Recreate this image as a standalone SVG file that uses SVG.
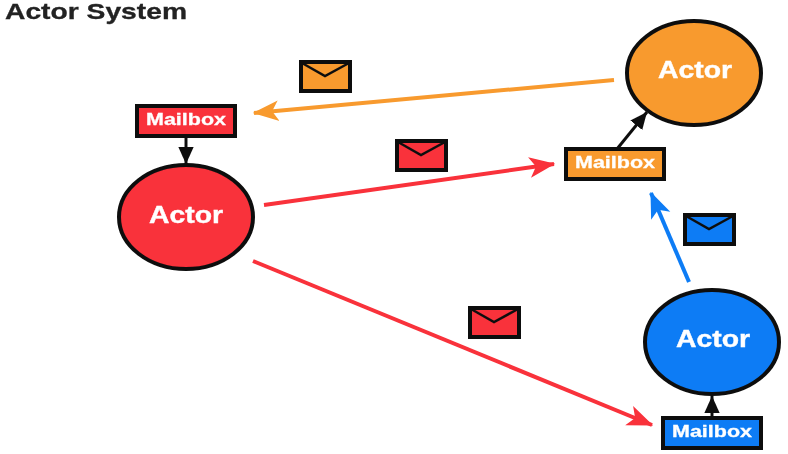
<svg xmlns="http://www.w3.org/2000/svg" width="788" height="454" viewBox="0 0 788 454">
<style>
text{font-family:"Liberation Sans",Arial,sans-serif;font-weight:bold}
.t{font-size:16px;fill:#fff;text-anchor:middle;stroke:#fff;stroke-width:.3}
.a{font-size:23px;fill:#fff;text-anchor:middle;stroke:#fff;stroke-width:.4}
.o{stroke:#111;stroke-width:4}
.m{fill:none;stroke:#111;stroke-width:2.5}
.c{fill:none;stroke-width:4}
.k{fill:none;stroke:#111;stroke-width:3}
</style>
<defs>
<filter id="soft" filterUnits="userSpaceOnUse" x="0" y="0" width="788" height="454"><feGaussianBlur stdDeviation="0.6"/></filter>
<marker id="ar" viewBox="0 0 10 10" refX="10" refY="5" markerWidth="17" markerHeight="17" markerUnits="userSpaceOnUse" orient="auto"><path d="M0 0.5L10 5L0 9.5Z" fill="#111"/></marker>
<marker id="or" viewBox="0 0 10 10" refX="9.5" refY="5" markerWidth="26" markerHeight="26" markerUnits="userSpaceOnUse" orient="auto"><path d="M0 1L10 5L0 9L2.5 5Z" fill="#f89a2e"/></marker>
<marker id="rd" viewBox="0 0 10 10" refX="9.5" refY="5" markerWidth="26" markerHeight="26" markerUnits="userSpaceOnUse" orient="auto"><path d="M0 1L10 5L0 9L2.5 5Z" fill="#f9303a"/></marker>
<marker id="bl" viewBox="0 0 10 10" refX="9.5" refY="5" markerWidth="26" markerHeight="26" markerUnits="userSpaceOnUse" orient="auto"><path d="M0 1L10 5L0 9L2.5 5Z" fill="#0a7bf5"/></marker>
</defs>
<g filter="url(#soft)">
<text x="5" y="19" font-size="22" fill="#222" stroke="#222" stroke-width=".3" textLength="182" lengthAdjust="spacingAndGlyphs">Actor System</text>
<g id="connectors">
<path class="c" stroke="#f89a2e" marker-end="url(#or)" d="M614 80L254 113"/>
<path class="c" stroke="#f9303a" marker-end="url(#rd)" d="M264 205L554 164"/>
<path class="c" stroke="#f9303a" marker-end="url(#rd)" d="M253 261L652 425"/>
<path class="c" stroke="#0a7bf5" marker-end="url(#bl)" d="M689 282L651 193"/>
<path class="k" marker-end="url(#ar)" d="M186 137V164"/>
<path class="k" marker-end="url(#ar)" d="M617 149L647 112"/>
<path class="k" marker-end="url(#ar)" d="M712 418V396"/>
</g>
<g id="actor-red"><ellipse class="o" cx="186" cy="217" rx="67" ry="52" fill="#f9303a"/><text class="a" x="186" y="223" textLength="74" lengthAdjust="spacingAndGlyphs">Actor</text></g>
<g id="actor-orange"><ellipse class="o" cx="694" cy="73" rx="67" ry="52" fill="#f89a2e"/><text class="a" x="695" y="78" textLength="74" lengthAdjust="spacingAndGlyphs">Actor</text></g>
<g id="actor-blue"><ellipse class="o" cx="712" cy="342" rx="67" ry="52" fill="#0a7bf5"/><text class="a" x="713" y="347" textLength="74" lengthAdjust="spacingAndGlyphs">Actor</text></g>
<g id="mailbox-red"><rect class="o" x="137" y="106" width="98" height="30" fill="#f9303a"/><text class="t" x="186" y="125" textLength="80" lengthAdjust="spacingAndGlyphs">Mailbox</text></g>
<g id="mailbox-orange"><rect class="o" x="566" y="149" width="98" height="30" fill="#f89a2e"/><text class="t" x="615" y="168" textLength="80" lengthAdjust="spacingAndGlyphs">Mailbox</text></g>
<g id="mailbox-blue"><rect class="o" x="663" y="418" width="98" height="30" fill="#0a7bf5"/><text class="t" x="712" y="437" textLength="80" lengthAdjust="spacingAndGlyphs">Mailbox</text></g>
<g id="envelope-orange"><rect class="o" x="301" y="62" width="49" height="29" fill="#f89a2e"/><path class="m" d="M302 63L325 76L349 63"/></g>
<g id="envelope-red-1"><rect class="o" x="397" y="141" width="49" height="29" fill="#f9303a"/><path class="m" d="M398 142L421 155L445 142"/></g>
<g id="envelope-red-2"><rect class="o" x="470" y="308" width="49" height="29" fill="#f9303a"/><path class="m" d="M471 309L494 322L518 309"/></g>
<g id="envelope-blue"><rect class="o" x="685" y="215" width="49" height="29" fill="#0a7bf5"/><path class="m" d="M686 216L709 229L733 216"/></g>
</g>
</svg>
